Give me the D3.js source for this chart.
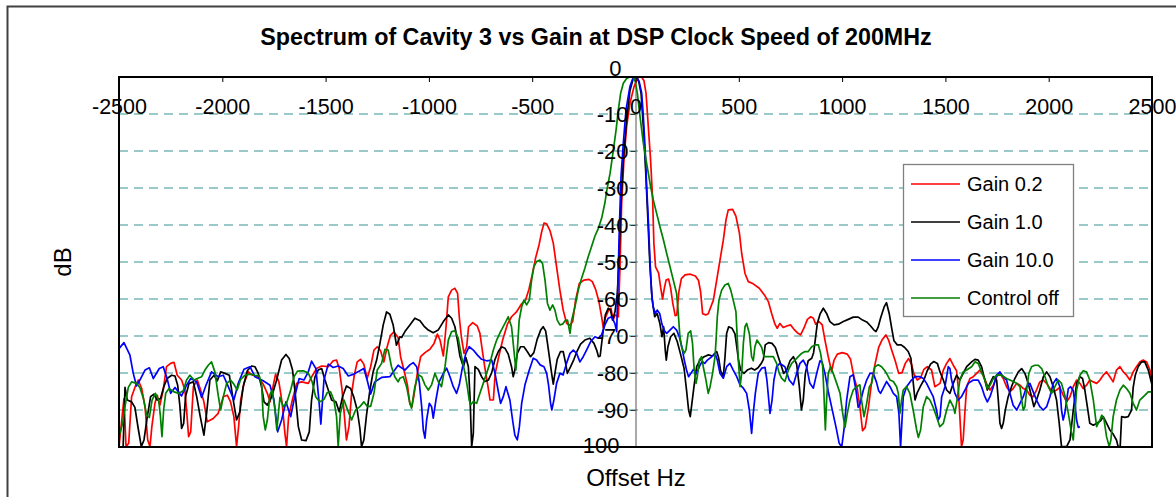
<!DOCTYPE html>
<html>
<head>
<meta charset="utf-8">
<script src="https://cdn.jsdelivr.net/npm/d3@7"></script>
<style>
  body { margin: 0; background: #fff; }
  svg { display: block; font-family: "Liberation Sans", Arial, sans-serif; }
</style>
</head>
<body>
<svg id="chart" width="1176" height="497"></svg>
<script>
// ---- data (offset Hz, dB) ----
var seriesNames = ["Gain 0.2", "Gain 1.0", "Gain 10.0", "Control off"];
var seriesColors = ["#ff0000", "#000000", "#0000ff", "#008000"];
var xTicks = [-2500, -2000, -1500, -1000, -500, 0, 500, 1000, 1500, 2000, 2500];
var yTicks = [0, -10, -20, -30, -40, -50, -60, -70, -80, -90, -100];

var gain02 = [
[-2500,-100],[-2476,-86.9],[-2466,-99.9],[-2453,-99],[-2439,-86.4],[-2423,-83.9],[-2407,-81.9],[-2390,-84.2],[-2374,-89.1],[-2361,-98.1],[-2350,-99.9],[-2341,-94.5],[-2326,-88.2],[-2315,-86],[-2302,-88.7],[-2286,-84.6],[-2270,-78.3],[-2250,-77.4],[-2234,-77.1],[-2218,-80.6],[-2197,-81.9],[-2181,-84.6],[-2173,-90],[-2163,-97.2],[-2153,-95.9],[-2140,-83.7],[-2121,-81.9],[-2105,-84.6],[-2089,-87.8],[-2073,-93.2],[-2044,-92.3],[-2020,-90.9],[-1995,-86.4],[-1976,-86],[-1960,-87.8],[-1944,-91.8],[-1931,-99.9],[-1921,-94.5],[-1911,-87.3],[-1895,-82.8],[-1874,-79.7],[-1853,-80.6],[-1826,-81],[-1802,-83],[-1782,-85.5],[-1769,-87.8],[-1758,-84.6],[-1742,-80.3],[-1726,-82.4],[-1710,-88.2],[-1697,-96.3],[-1689,-99.9],[-1679,-91.8],[-1661,-87.3],[-1640,-82.8],[-1616,-82.4],[-1584,-82.8],[-1563,-80.6],[-1544,-78.8],[-1519,-78.1],[-1487,-78.3],[-1463,-76.7],[-1447,-76.5],[-1434,-78.8],[-1421,-84.2],[-1410,-90.9],[-1399,-98.1],[-1387,-94.5],[-1374,-85.5],[-1361,-80.6],[-1347,-77],[-1331,-76.3],[-1315,-77.6],[-1299,-81.5],[-1282,-78.3],[-1266,-73.8],[-1250,-72.9],[-1234,-74],[-1218,-77],[-1202,-72.9],[-1186,-69.8],[-1169,-68.9],[-1149,-70.4],
[-1137,-75.6],[-1121,-79.2],[-1104,-83.2],[-1092,-88.4],[-1082,-89.1],[-1072,-85.9],[-1056,-80.1],[-1040,-75.6],[-1019,-74.5],[-995,-73.6],[-975,-72],[-959,-69.5],[-946,-71.1],[-930,-75.4],[-917,-67.5],[-906,-59.4],[-890,-57.6],[-874,-57.1],[-861,-58.5],[-853,-64.8],[-843,-70.2],[-830,-74.7],[-817,-72.9],[-808,-67.5],[-788,-66.4],[-766,-67.3],[-753,-69.3],[-743,-73.3],[-730,-78.3],[-714,-83.7],[-704,-87.3],[-688,-87.3],[-679,-80.1],[-662,-75.6],[-643,-71.1],[-620,-66.8],[-600,-64.8],[-575,-63.4],[-551,-61.3],[-532,-60.3],[-516,-57.4],[-500,-53.5],[-484,-49],[-467,-45.4],[-454,-41.8],[-443,-39.5],[-430,-39.7],[-414,-41.5],[-398,-44.9],[-382,-51.3],[-366,-57.6],[-350,-63],[-333,-66.6],[-317,-67.1],[-304,-66.1],[-290,-60.3],[-272,-55.8],[-250,-54.9],[-225,-54.7],[-209,-55.3],[-193,-57.4],[-177,-60.7],[-164,-64.8],[-156,-67.7],[-145,-64.9],[-130,-63],[-119,-62.5],[-108,-65.7],
[-99,-64.3],[-83,-64.8],[-75,-51.3],[-67,-34.1],[-56,-22.4],[-43,-13.4],[-27,-7.1],[-7,-2.6],[14,0],[30,0],[41,-1],[51,-4.4],[62,-13.4],[73,-22.4],[83,-33.2],[89,-45],[97,-51.3],[112,-53],[122,-57],[131,-60],[140,-57],[148,-54.9],[160,-54.6],[170,-57],[180,-61],[192,-64.5],[200,-64.3],[210,-58],[222,-54.5],[240,-53.5],[265,-53.3],[290,-53.8],[305,-55],[315,-58],[325,-64],[340,-64.3],[352,-64],
[377,-60.3],[393,-54.9],[409,-49.5],[425,-44.1],[438,-38.6],[449,-35.9],[470,-35.8],[486,-37.6],[503,-42.2],[514,-47.7],[530,-53.1],[546,-55.3],[570,-55.9],[599,-57.1],[624,-58.9],[643,-60.7],[659,-63.9],[675,-66.8],[686,-67.9],[699,-66.6],[715,-67.7],[732,-67.3],[751,-67],[767,-68.2],[783,-69.1],[799,-69.7],[815,-67.9],[832,-65.5],[848,-64.8],[861,-65.2],[872,-66.8],[888,-66.1],[904,-67],[917,-71.1],[933,-75.6],[949,-79.6],[961,-76.5],[977,-74.9],[1001,-74.5],[1025,-74.9],[1041,-76.3],[1057,-81],[1073,-84.1],[1086,-89.1],[1099,-95.6],[1112,-94.7],[1128,-89.1],[1144,-81.9],[1161,-77.2],[1177,-73.1],[1193,-71.1],[1212,-69.7],[1225,-71.1],[1241,-74],[1257,-76.7],[1274,-80.1],[1290,-79.9],[1306,-77.4],[1322,-76.1],[1336,-77.6],[1348,-80.3],[1364,-81.9],[1380,-81.3],[1396,-79],[1412,-78.3],[1433,-79.2],[1449,-83.7],
[1474,-82.8],[1490,-79.2],[1506,-77.4],[1522,-76.1],[1538,-77.9],[1554,-79.4],[1562,-83.7],[1570,-91.8],[1578,-99.9],[1586,-98.1],[1595,-90],[1603,-83.7],[1619,-81.5],[1635,-81],[1651,-80.1],[1667,-79.2],[1683,-80.6],[1699,-82.8],[1716,-84.6],[1732,-83.3],[1748,-81],[1764,-80.1],[1780,-81.5],[1796,-83.7],[1812,-85.1],[1828,-84.2],[1845,-82.8],[1861,-83.3],[1877,-84.2],[1893,-84.6],[1909,-86],[1925,-86.4],[1941,-84.6],[1957,-82.4],[1974,-81.9],[1990,-82.8],[2006,-84.2],[2022,-85.1],[2038,-84.6],[2054,-83.9],[2070,-86],[2087,-87.8],[2103,-86.4],[2119,-83.7],[2135,-81.9],[2151,-82.8],[2167,-84.2],[2183,-83.3],[2199,-81.9],[2216,-82.4],[2232,-82.8],[2248,-81.9],[2264,-80.6],[2280,-79.7],[2296,-81],[2312,-82.4],[2328,-79.2],[2345,-78.3],[2361,-79.7],[2377,-80.6],[2393,-81.9],[2409,-79.7],[2425,-78.3],[2441,-77],[2457,-76.5],[2474,-77],[2490,-79.2],[2500,-81.9]
];

var gain10 = [
[-2480,-100],[-2471,-83.9],[-2460,-87.3],[-2439,-87.8],[-2423,-89.3],[-2407,-95],[-2392,-99.9],[-2379,-98.1],[-2363,-91.8],[-2347,-86.4],[-2331,-85.7],[-2315,-87.3],[-2299,-86.9],[-2283,-83.7],[-2267,-81.5],[-2245,-80.6],[-2229,-80.8],[-2216,-83.3],[-2205,-89.1],[-2197,-95],[-2187,-93.6],[-2178,-86.4],[-2161,-82.8],[-2140,-82.4],[-2124,-86.4],[-2108,-91.4],[-2089,-96.8],[-2076,-90.9],[-2060,-81.9],[-2040,-80.6],[-2024,-82.1],[-2008,-79.7],[-1987,-80.1],[-1966,-80.6],[-1947,-87.3],[-1931,-92.7],[-1915,-90.5],[-1899,-83.7],[-1879,-79.4],[-1858,-78.1],[-1842,-78.3],[-1826,-80.1],[-1810,-83.7],[-1798,-87.8],[-1782,-88.7],[-1761,-86.4],[-1737,-81.9],[-1713,-76.5],[-1692,-75],[-1676,-76.1],[-1660,-79.2],[-1647,-85.5],[-1632,-94.5],[-1616,-98.1],[-1595,-98.3],[-1579,-95.9],[-1568,-87.3],[-1552,-81.2],[-1536,-79.2],[-1519,-78.8],[-1503,-81.9],[-1487,-84.6],[-1471,-87.3],[-1450,-87.8],[-1434,-90.5],[-1418,-86.4],[-1399,-83.5],[-1379,-84.2],[-1363,-86.6],[-1347,-90],[-1334,-95],[-1326,-99.9],[-1315,-98.1],[-1302,-91.4],[-1286,-84.8],[-1270,-79.7],[-1253,-76.5],[-1237,-72],[-1221,-67],[-1205,-63.5],[-1189,-64.1],[-1173,-67],[-1157,-72.5],[-1140,-70.2],
[-1132,-70.4],[-1116,-68.8],[-1092,-67],[-1068,-65.2],[-1043,-65.9],[-1024,-67.3],[-1003,-68.4],[-979,-69.1],[-955,-68.4],[-930,-66.1],[-906,-64.3],[-890,-65.2],[-874,-67.5],[-862,-71.1],[-850,-75.4],[-833,-78.3],[-821,-75.8],[-809,-78.3],[-801,-86.4],[-793,-99.9],[-785,-96.3],[-777,-78.3],[-761,-79],[-745,-81],[-729,-82.3],[-712,-81.9],[-696,-79.9],[-680,-76.3],[-664,-74.2],[-648,-72.9],[-632,-73.3],[-616,-74.9],[-600,-78.3],[-592,-81],[-584,-79.2],[-572,-74.7],[-556,-72.9],[-540,-72.9],[-524,-74.2],[-508,-75.6],[-492,-74.5],[-476,-70.9],[-459,-68.4],[-447,-67.5],[-435,-68.6],[-426,-72],[-417,-75.6],[-406,-80.1],[-398,-83],[-390,-80.1],[-379,-76.3],[-363,-74.2],[-350,-74.2],[-338,-77.4],[-330,-80.1],[-314,-78.3],[-298,-76.3],[-282,-74],[-266,-72.2],[-245,-71.1],[-221,-70.6],[-201,-72],[-188,-73.8],[-179,-75.6],[-171,-75.4],[-159,-69.7],[-146,-64.3],[-132,-62.5],[-121,-63],[-111,-65.7],
[-99,-63.4],[-88,-58.5],[-80,-49.5],[-72,-36],[-59,-22.4],[-43,-11.6],[-27,-3.7],[-11,-0.4],[2,0],[15,-1],[27,-4.4],[38,-13.4],[49,-25.1],[60,-38.6],[70,-51.3],[81,-60.3],[93,-64.8],[105,-63.9],[118,-66.6],[128,-70.2],[136,-67.5],[144,-73.8],[149,-76.5],[157,-72.9],[170,-70.2],[186,-69.3],[202,-71.5],[218,-74.9],[235,-78.7],[247,-84.6],[257,-90],[265,-91.8],
[283,-83.7],[296,-78.3],[312,-76.5],[332,-75.6],[353,-75.1],[373,-75.4],[393,-74.2],[402,-75.8],[412,-79.4],[425,-81],[433,-75.8],[441,-69.3],[451,-67.5],[467,-67.9],[482,-69.5],[490,-72.9],[499,-76.7],[509,-79.2],[525,-80.1],[541,-79.2],[561,-78.7],[577,-79.2],[593,-78.6],[609,-77.4],[619,-76.3],[628,-72.4],[644,-71.8],[661,-72],[677,-73.1],[691,-75.6],[707,-78.3],[717,-80.1],[732,-79.2],[748,-76.7],[764,-75.6],[780,-77.6],[793,-83.7],[803,-90],[812,-87.3],[822,-80.1],[836,-76.7],[853,-76],[862,-74.5],[870,-71.1],[880,-66.6],[893,-64.1],[909,-62.5],[925,-63.9],[941,-66.1],[961,-67],[982,-66.8],[1006,-66.1],[1030,-65.5],[1054,-64.9],[1078,-64.9],[1099,-65.7],[1119,-66.2],[1138,-67.3],[1154,-68.4],[1164,-68.8],[1174,-67.7],[1186,-65.2],[1203,-62.2],[1215,-61],[1228,-63.9],[1240,-67.9],[1251,-71.3],[1267,-72.4],[1286,-72.4],[1303,-73.1],[1320,-74.2],[1333,-76],[1343,-81.9],[1353,-87.3],[1364,-85.3],[1380,-83.5],[1396,-81.9],[1412,-79.4],[1428,-77.6],[1444,-76.9],[1461,-77.4],
[1474,-79.7],[1490,-81.9],[1506,-84.6],[1522,-85.5],[1538,-82.8],[1554,-80.6],[1570,-81.9],[1586,-80.1],[1603,-78.3],[1627,-77],[1643,-76.3],[1659,-76.5],[1675,-78.3],[1691,-81.9],[1703,-84.6],[1716,-82.8],[1732,-81],[1748,-81.9],[1756,-87.3],[1764,-93.6],[1772,-95],[1780,-93.6],[1790,-90],[1804,-86.4],[1820,-83.7],[1836,-81.5],[1853,-79.7],[1869,-78.8],[1885,-80.1],[1901,-82.8],[1917,-86.4],[1928,-89.1],[1941,-87.3],[1957,-84.6],[1974,-81],[1990,-79.7],[2006,-81],[2022,-83.7],[2038,-87.3],[2051,-93.6],[2062,-99.9],[2087,-99.9],[2103,-98.1],[2119,-90],[2135,-82.8],[2151,-81],[2164,-81.5],[2175,-84.6],[2187,-89.1],[2199,-93.6],[2216,-94.1],[2235,-93.5],[2251,-92.9],[2264,-91.8],[2277,-93.2],[2296,-95.4],[2312,-96.5],[2328,-98.1],[2336,-99.9],[2346,-99.9],[2353,-91.8],[2369,-92],[2385,-91.8],[2401,-90],[2409,-83.9],[2419,-80.6],[2433,-78.3],[2449,-77],[2465,-77],[2482,-79.2],[2498,-82.8]
];

var gain100 = [
[-2500,-73.4],[-2476,-71.8],[-2447,-75.2],[-2431,-80.1],[-2415,-83.5],[-2399,-81.9],[-2374,-79.2],[-2353,-78.6],[-2334,-81.5],[-2305,-78.8],[-2286,-78.3],[-2267,-81.5],[-2250,-85.5],[-2229,-83.9],[-2197,-86.2],[-2173,-83.3],[-2153,-81.5],[-2124,-82.4],[-2100,-86.6],[-2079,-83.3],[-2052,-79.7],[-2020,-81],[-1995,-80.6],[-1971,-83.7],[-1944,-87.3],[-1923,-82.8],[-1895,-79],[-1866,-78.3],[-1842,-81],[-1802,-82.1],[-1769,-83.3],[-1750,-87.3],[-1732,-95.9],[-1713,-92.7],[-1692,-87.8],[-1669,-91.8],[-1648,-86],[-1628,-81.5],[-1605,-81.9],[-1584,-79.7],[-1568,-76.8],[-1547,-78.8],[-1531,-88.2],[-1523,-93.8],[-1508,-81.9],[-1487,-77.6],[-1463,-78.5],[-1439,-78.1],[-1415,-78.8],[-1390,-80.8],[-1363,-80.3],[-1334,-79.4],[-1315,-78.8],[-1299,-81.9],[-1282,-85.7],[-1262,-82.4],[-1229,-81.2],[-1189,-81],[-1149,-77.9],
[-1140,-78.3],[-1116,-79.2],[-1092,-77.8],[-1076,-77.2],[-1059,-78.3],[-1046,-82.8],[-1035,-89.1],[-1027,-95.4],[-1019,-97.6],[-1011,-92.7],[-998,-88.2],[-987,-89.1],[-979,-92.2],[-966,-87.3],[-950,-82.3],[-930,-80.1],[-914,-78.7],[-898,-81],[-882,-83.7],[-866,-85.5],[-853,-83.2],[-837,-78.3],[-821,-74.7],[-805,-72.9],[-785,-73.8],[-766,-75.1],[-745,-76.3],[-721,-76.7],[-696,-76.5],[-680,-80.1],[-664,-85],[-653,-88.2],[-640,-86.4],[-627,-83.7],[-608,-87.3],[-595,-92.7],[-584,-96.8],[-572,-98.1],[-562,-94.5],[-551,-88.2],[-535,-83.2],[-514,-79.2],[-495,-76],[-479,-76.5],[-462,-77.8],[-443,-78.3],[-430,-80.1],[-421,-83.2],[-411,-88.2],[-405,-90],[-395,-87.3],[-382,-82.8],[-366,-80.1],[-350,-80.5],[-334,-77.4],[-317,-74.7],[-301,-73.8],[-285,-74.7],[-269,-77],[-253,-75.6],[-237,-73.8],[-217,-71.5],[-196,-70.2],[-180,-70.6],[-164,-69.7],[-148,-67],[-132,-65.2],[-116,-64.8],[-100,-66.6],[-91,-68.8],
[-78,-40.4],[-70,-26.9],[-59,-17.9],[-46,-8.9],[-27,-2.6],[-11,-0.1],[5,0],[18,-1.3],[30,-4.4],[38,-10.7],[46,-18.8],[54,-29.6],[62,-38.6],[70,-49.5],[78,-58.5],[86,-62.2],[96,-63.9],[105,-63],[117,-63.9],[128,-66.8],[140,-68.6],[151,-69.3],[167,-68.4],[183,-67.5],[199,-68.4],[212,-70.2],[225,-73.1],[236,-76.5],[247,-79.2],[257,-81],[268,-80.1],[281,-79],[296,-80.1],[309,-78.3],[322,-76.9],[335,-77.4],[348,-76.5],
[369,-75.6],[385,-74.7],[396,-76.5],[409,-80.1],[425,-81.4],[441,-78.3],[457,-77.4],[473,-79.2],[490,-81],[506,-83.2],[522,-84.1],[538,-85.5],[551,-90],[562,-96.3],[570,-90.9],[580,-85.5],[594,-80.1],[611,-78.7],[627,-78.5],[636,-81.9],[651,-90.9],[661,-87.3],[670,-81.9],[683,-78.3],[699,-77.4],[723,-78.3],[744,-81.9],[764,-83.2],[780,-80.1],[796,-77.4],[812,-76.5],[828,-78.3],[844,-82.8],[861,-84.1],[877,-80.1],[893,-76.7],[903,-77],[917,-80.1],[933,-85],[949,-89.1],[970,-94.5],[986,-99],[998,-100],[1009,-95.4],[1022,-87.3],[1038,-81],[1054,-80.5],[1067,-84.6],[1078,-89.3],[1086,-88.4],[1103,-84.6],[1119,-81.9],[1135,-80.1],[1151,-80.1],[1167,-82.6],[1177,-84.8],[1186,-85.5],[1199,-84.1],[1215,-82.3],[1232,-83.7],[1248,-85.5],[1264,-86.4],[1275,-90.9],[1283,-100],[1296,-86.4],[1312,-83.7],[1336,-81.9],[1353,-81],[1377,-81],[1393,-81.5],[1409,-82.8],[1425,-84.6],[1441,-86.4],
[1457,-90],[1465,-92.7],[1474,-91.8],[1482,-86.4],[1498,-83.7],[1514,-78.3],[1522,-78.8],[1530,-81.9],[1546,-85.5],[1562,-87.3],[1578,-86.4],[1595,-84.6],[1611,-82.8],[1635,-81.9],[1659,-81.9],[1675,-83.7],[1691,-86.4],[1703,-87.8],[1716,-86.4],[1732,-83.7],[1748,-80.6],[1764,-79.7],[1780,-81],[1796,-81.9],[1812,-85.5],[1828,-88.7],[1845,-90],[1861,-88.2],[1877,-86.4],[1893,-83.7],[1909,-82.8],[1925,-85.1],[1941,-87.3],[1957,-89.1],[1974,-90],[1990,-89.1],[2006,-86.4],[2022,-82.8],[2038,-81.5],[2054,-83.7],[2062,-90],[2070,-92.7],[2078,-90.9],[2087,-87.3],[2095,-84.2],[2106,-83.7],[2119,-84.8],[2127,-88.2],[2135,-92.7],[2143,-94.7],[2151,-94.5]
];

var controlOff = [
[-2499,-96.8],[-2482,-93.6],[-2471,-89.1],[-2455,-83.9],[-2439,-82.4],[-2415,-82.8],[-2399,-83.9],[-2382,-86.9],[-2366,-91.4],[-2353,-92],[-2340,-87.3],[-2324,-85.5],[-2308,-87.3],[-2300,-91.4],[-2292,-97.2],[-2284,-90],[-2274,-85.5],[-2258,-84.2],[-2234,-85.1],[-2210,-85.5],[-2189,-84.8],[-2173,-81.9],[-2157,-80.6],[-2137,-81.9],[-2121,-81.5],[-2100,-81],[-2084,-79.2],[-2068,-77.9],[-2052,-77],[-2036,-79.7],[-2020,-86],[-2008,-90],[-1995,-86.4],[-1979,-82.8],[-1960,-81.9],[-1944,-83],[-1928,-84.6],[-1911,-81.7],[-1890,-80.6],[-1866,-80.3],[-1842,-80.6],[-1821,-80.8],[-1810,-82.8],[-1802,-91.8],[-1792,-95.4],[-1782,-92.7],[-1769,-85.7],[-1758,-84.6],[-1745,-90],[-1736,-95.4],[-1721,-86.6],[-1705,-89.1],[-1689,-88.2],[-1669,-84.6],[-1653,-81],[-1636,-79.5],[-1608,-79.4],[-1584,-80],[-1565,-82.4],[-1548,-86.4],[-1528,-87.8],[-1508,-87.1],[-1492,-85.3],[-1476,-85.1],[-1460,-87.3],[-1447,-91.8],[-1439,-99.9],[-1429,-90.9],[-1411,-87.3],[-1390,-90.5],[-1374,-92.7],[-1355,-90],[-1334,-89.1],[-1315,-87.8],[-1299,-89],[-1282,-89],[-1266,-85.5],[-1250,-79.2],[-1229,-77.4],[-1213,-73.6],[-1197,-73.8],[-1181,-78.3],[-1165,-81],[-1149,-82.4],
[-1140,-81.4],[-1124,-81],[-1108,-83.7],[-1092,-88.2],[-1084,-89.5],[-1068,-83.7],[-1051,-80.5],[-1035,-81],[-1019,-83.2],[-1003,-84.6],[-987,-83.2],[-971,-80.1],[-955,-82.3],[-939,-83.7],[-922,-78.3],[-906,-71.1],[-890,-68.8],[-874,-68.6],[-858,-70.6],[-842,-75.6],[-825,-80.1],[-814,-83.7],[-805,-87.3],[-798,-88.6],[-785,-87.7],[-769,-88.2],[-753,-85.5],[-737,-82.8],[-721,-80.1],[-705,-77.4],[-688,-73.8],[-672,-71.1],[-653,-68.8],[-632,-66.6],[-616,-64.8],[-600,-67.5],[-587,-74.7],[-579,-79.2],[-571,-72.9],[-563,-65.7],[-551,-62.1],[-540,-60.3],[-527,-61.6],[-514,-60.3],[-503,-54.9],[-492,-51.3],[-479,-49.9],[-462,-49.5],[-450,-50.4],[-438,-54.9],[-426,-61.2],[-414,-63],[-401,-61.6],[-390,-63],[-379,-65.7],[-366,-67],[-353,-66.8],[-340,-65.8],[-329,-65.7],[-317,-69.3],[-309,-65.7],[-293,-62.1],[-277,-57.6],[-261,-54.4],[-245,-51.7],[-229,-48.6],[-213,-45.9],[-197,-43.1],[-180,-40.9],[-164,-38.2],[-148,-34],[-140,-31],[-123,-26],
[-107,-19.7],[-94,-14.3],[-83,-8.9],[-72,-4.4],[-59,-1.7],[-43,-0.4],[-27,0],[-14,0],[-2,-1],[9,-4.4],[22,-10.7],[38,-17.9],[51,-22.4],[62,-26],[73,-29.6],[86,-33.2],[102,-36.8],[118,-40.4],[135,-44],[151,-47.7],[167,-51.3],[183,-54.9],[199,-58.5],[207,-63.9],[215,-70.2],[223,-72.9],[235,-74.7],[244,-73.8],[255,-69.3],[267,-68.6],[276,-72],[283,-78.3],[293,-82.8],[299,-81],[309,-76.5],[320,-75.6],[328,-78.3],[341,-81.9],[352,-85.5],
[361,-83.7],[373,-80.1],[385,-75.6],[390,-71.1],[396,-64.8],[404,-60.3],[417,-57.6],[433,-56.2],[449,-55.8],[461,-57.6],[473,-60.3],[486,-63.4],[498,-76.5],[506,-83.7],[514,-80.1],[522,-72],[530,-67.5],[538,-66.6],[551,-69.3],[562,-75.6],[570,-76.7],[578,-72.9],[588,-71.1],[599,-72],[611,-73.1],[622,-75.6],[643,-75.6],[667,-75.6],[683,-77.4],[696,-80.1],[707,-81.4],[723,-82.3],[740,-79.2],[756,-77.4],[772,-76.5],[788,-75.6],[804,-74.7],[820,-74.2],[836,-74.2],[853,-72.9],[869,-72.4],[885,-72.4],[896,-74.7],[906,-78.3],[912,-85.5],[919,-95.4],[925,-87.3],[933,-80.1],[944,-78.3],[957,-80.1],[974,-82.8],[990,-85.5],[1003,-90.9],[1014,-94.7],[1025,-90.9],[1038,-87.3],[1054,-84.6],[1070,-83.7],[1086,-83.2],[1094,-87.3],[1106,-91.8],[1119,-88.2],[1132,-83.7],[1143,-82.8],[1159,-78.3],[1175,-77.8],[1191,-78.3],[1207,-79.4],[1219,-80.5],[1232,-81.9],[1248,-82.3],[1264,-83.7],[1272,-85.5],[1280,-90.9],[1288,-87.3],[1296,-84.6],[1312,-83.7],[1328,-85.5],[1344,-90],[1361,-95.4],[1369,-97.4],[1380,-95.4],[1393,-89.1],[1409,-86.4],[1425,-87.3],[1441,-89.3],[1457,-91.8],[1473,-94.5],
[1490,-93.6],[1506,-90],[1522,-87.3],[1538,-89.1],[1546,-90.9],[1554,-88.2],[1570,-81.9],[1586,-79.7],[1603,-79.2],[1627,-78.3],[1643,-77],[1659,-77.4],[1675,-79.7],[1691,-81.9],[1703,-84.2],[1716,-83.3],[1732,-81.5],[1748,-80.6],[1772,-80.6],[1796,-81.5],[1820,-82.1],[1845,-82.8],[1861,-83.7],[1869,-87.3],[1877,-90],[1885,-89.1],[1893,-84.6],[1904,-80.1],[1917,-78.3],[1933,-77.9],[1949,-77.9],[1966,-78.8],[1982,-81],[1998,-83.7],[2014,-85.5],[2030,-83.7],[2046,-81.9],[2062,-82.8],[2078,-86],[2095,-90.9],[2111,-96.3],[2119,-98.1],[2127,-90.9],[2135,-84.6],[2151,-80.6],[2167,-79.4],[2183,-79.7],[2199,-81.9],[2216,-87.3],[2232,-94.5],[2248,-92.7],[2257,-91.4],[2267,-92.3],[2280,-97.2],[2293,-99.9],[2301,-98.1],[2312,-91.8],[2328,-87.3],[2345,-84.6],[2361,-83.3],[2377,-84.2],[2393,-85.5],[2409,-88.2],[2425,-90],[2441,-87.3],[2466,-86],[2482,-85.1],[2500,-85.1]
];

var allSeries = [gain02, gain10, gain100, controlOff];

// ---- layout ----
var svg = d3.select("#chart");
var plotL = 119, plotR = 1152, plotT = 77, plotB = 447;

var x = d3.scaleLinear().domain([-2500, 2500]).range([plotL, plotR]);
var y = d3.scaleLinear().domain([0, -100]).range([plotT, plotB]);

// plain labels, hyphen minus, no thousands comma
function plain(d){ return String(d); }

// outer chart frame
svg.append("rect")
    .attr("x", 7.5).attr("y", 6.5)
    .attr("width", 1200).attr("height", 520)
    .attr("fill", "#fff")
    .attr("stroke", "#404040")
    .attr("stroke-width", 2);

// title
svg.append("text")
    .attr("x", 596).attr("y", 45)
    .attr("text-anchor", "middle")
    .attr("font-weight", "bold")
    .attr("font-size", 23.3)
    .text("Spectrum of Cavity 3 vs Gain at DSP Clock Speed of 200MHz");

// dashed gridlines
svg.append("g").selectAll("line")
    .data(yTicks.filter(function(d){ return d != 0 && d != -100; }))
    .enter().append("line")
    .attr("x1", plotL).attr("x2", plotR)
    .attr("y1", function(d){ return y(d); })
    .attr("y2", function(d){ return y(d); })
    .attr("stroke", "#78b8b8")
    .attr("stroke-width", 1.4)
    .attr("stroke-dasharray", "9,6");

// y axis (sits at x = 0)
var yAxis = svg.append("g")
    .attr("transform", "translate(" + x(0) + ",0)")
    .call(d3.axisLeft(y).tickValues(yTicks).tickSize(5).tickPadding(2));
yAxis.select(".domain").attr("stroke", "#555").attr("stroke-width", 1);
yAxis.selectAll(".tick line").attr("stroke", "#333");
yAxis.selectAll(".tick text").remove();

// series
svg.append("clipPath").attr("id", "plotClip")
  .append("rect")
    .attr("x", plotL).attr("y", plotT)
    .attr("width", plotR - plotL).attr("height", plotB - plotT);

var line = d3.line()
    .x(function(d){ return x(d[0]); })
    .y(function(d){ return y(d[1]); });

svg.append("g").attr("clip-path", "url(#plotClip)")
  .selectAll("path")
  .data(allSeries)
  .enter().append("path")
    .attr("d", line)
    .attr("fill", "none")
    .attr("stroke", function(d, i){ return seriesColors[i]; })
    .attr("stroke-width", 1.7)
    .attr("stroke-linejoin", "round");

// y tick labels (drawn over the traces, like the original)
svg.append("g").selectAll("text")
    .data(yTicks)
    .enter().append("text")
    .attr("x", function(d){ return d == 0 ? x(0) - 14 : (d == -100 ? x(0) - 16 : x(0) - 7); })
    .attr("y", function(d){ return d == 0 ? y(d) - 1 : (d == -100 ? y(d) + 6 : y(d) + 8); })
    .attr("text-anchor", "end")
    .attr("font-size", 22)
    .text(plain);

// plot frame
svg.append("rect")
    .attr("x", plotL).attr("y", plotT)
    .attr("width", plotR - plotL).attr("height", plotB - plotT)
    .attr("fill", "none")
    .attr("stroke", "#000")
    .attr("stroke-width", 2);

// x axis along the top (0 dB)
var xAxis = svg.append("g")
    .attr("transform", "translate(0," + plotT + ")")
    .call(d3.axisBottom(x).tickValues(xTicks).tickFormat(plain).tickSize(5).tickPadding(17));
xAxis.select(".domain").remove();
xAxis.selectAll(".tick line").attr("stroke", "#000");
xAxis.selectAll(".tick text")
    .attr("font-size", 21.5)
    .attr("font-family", "Liberation Sans, Arial, sans-serif")
    .attr("fill", "#000");

// axis titles
svg.append("text")
    .attr("transform", "translate(71,262) rotate(-90)")
    .attr("text-anchor", "middle")
    .attr("font-size", 24)
    .text("dB");

svg.append("text")
    .attr("x", 636).attr("y", 486)
    .attr("text-anchor", "middle")
    .attr("font-size", 24)
    .text("Offset Hz");

// legend
var legend = svg.append("g");
legend.append("rect")
    .attr("x", 903.5).attr("y", 164.5)
    .attr("width", 170).attr("height", 152)
    .attr("fill", "#fff")
    .attr("stroke", "#808080")
    .attr("stroke-width", 1.3);

var legendItem = legend.selectAll("g.item")
    .data(seriesNames)
    .enter().append("g")
    .attr("class", "item")
    .attr("transform", function(d, i){ return "translate(0," + (184 + i * 38) + ")"; });
legendItem.append("line")
    .attr("x1", 911).attr("x2", 960)
    .attr("stroke", function(d, i){ return seriesColors[i]; })
    .attr("stroke-width", 1.7);
legendItem.append("text")
    .attr("x", 967).attr("y", 7)
    .attr("font-size", 20)
    .text(function(d){ return d; });
</script>
</body>
</html>
